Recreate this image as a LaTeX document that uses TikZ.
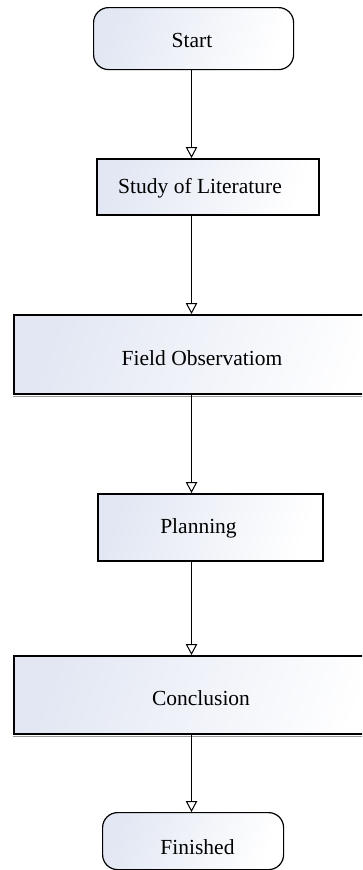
\documentclass[tikz,border=0pt]{standalone}
\usepackage{fontspec}
\setmainfont{Liberation Serif}
\usetikzlibrary{arrows.meta}
\definecolor{shadeblue}{HTML}{E2E7F3}
\definecolor{shadowgray}{HTML}{9A9A9A}
\begin{document}
\begin{tikzpicture}[x=1pt,y=-1pt,
  boxfill/.style={left color=shadeblue, right color=white, shading angle=70},
  termbox/.style={boxfill, draw=black, line width=1.2pt, rounded corners=15pt, inner sep=0pt, anchor=north west},
  procbox/.style={boxfill, draw=black, line width=1.6pt, inner sep=0pt, anchor=north west},
  txt/.style={font=\fontsize{21.5pt}{26pt}\selectfont, inner sep=0pt, text=black},
  arr/.style={draw=black, line width=1pt, -{Triangle[open, length=11pt, width=11.5pt, line width=1pt]}},
  shadowline/.style={draw=shadowgray, line width=1.2pt}]
\useasboundingbox (0,0) rectangle (362,870);
\clip (0,0) rectangle (362,870);
\fill[white] (0,0) rectangle (362,870);
\coordinate (ax) at (191.5,0);

% Start
\node[termbox, minimum width=200pt, minimum height=62pt] (start) at (93,7) {};
\node[txt] (startt) at (192,40) {Start};

% Study of Literature
\node[procbox, minimum width=222pt, minimum height=56pt] (study) at (96,158) {};
\node[txt] (studyt) at (200,188) {Study of Literature};

% Field Observatiom
\node[procbox, minimum width=380pt, minimum height=79pt] (field) at (13,314) {};
\draw[shadowline] ([yshift=-2pt]field.south west) -- ([yshift=-2pt]field.south east);
\node[txt] (fieldt) at (202,358) {Field Observatiom};

% Planning
\node[procbox, minimum width=225pt, minimum height=67pt] (plan) at (97,493) {};
\node[txt] (plant) at (198.5,528) {Planning};

% Conclusion
\node[procbox, minimum width=380pt, minimum height=78pt] (concl) at (13,655) {};
\draw[shadowline] ([yshift=-2pt]concl.south west) -- ([yshift=-2pt]concl.south east);
\node[txt] (conclt) at (201,698) {Conclusion};

% Finished
\node[termbox, minimum width=181pt, minimum height=57pt] (fin) at (102,812) {};
\node[txt] (fint) at (197.5,847) {Finished};

% connectors
\draw[arr] (start.south -| ax) -- (study.north -| ax);
\draw[arr] (study.south -| ax) -- (field.north -| ax);
\draw[arr] (field.south -| ax) -- (plan.north -| ax);
\draw[arr] (plan.south -| ax) -- (concl.north -| ax);
\draw[arr] (concl.south -| ax) -- (fin.north -| ax);
\end{tikzpicture}
\end{document}
